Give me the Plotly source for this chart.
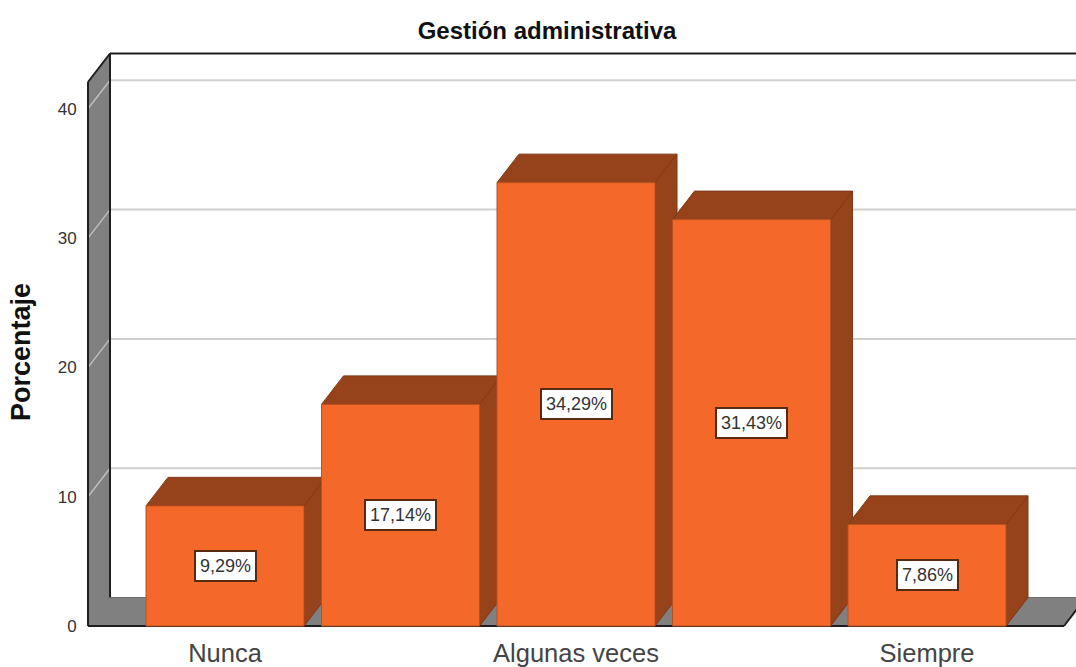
import plotly.graph_objects as go

categories = ["Nunca", "Casi nunca", "Algunas veces", "Casi siempre", "Siempre"]
percentages = [9.29, 17.14, 34.29, 31.43, 7.86]
labels = ["9,29%", "17,14%", "34,29%", "31,43%", "7,86%"]
y_ticks = [0, 10, 20, 30, 40]
x_tick_index = [0, 2, 4]

FRONT = "#F4682A"
DARK = "#96421A"
WALL = "#808080"
GRID = "#CFCFCF"
INK = "#1E1E1E"

W, H = 1076, 667
L, R, T, B = 84, 1076, 50, 630
X0_PX, X_UNIT = 225.0, 175.5
Y0_PX, Y_UNIT = 626.0, 12.93


def xv(px):
    return (px - X0_PX) / X_UNIT


def yv(px):
    return (Y0_PX - px) / Y_UNIT


DX = 22 / X_UNIT
DY = 28.5 / Y_UNIT
BAR_W = 158 / X_UNIT
WALL_X = xv(88)
FLOOR_END = xv(1064)
WALL_TOP = yv(82)
RIGHT_OUT = xv(1100)


def poly(points, fill, line=None, width=1):
    path = "M " + " L ".join(f"{x},{y}" for x, y in points) + " Z"
    return dict(type="path", path=path, xref="x", yref="y", layer="below",
                fillcolor=fill, line=dict(color=line or fill, width=width))


def seg(x0, y0, x1, y1, color, width):
    return dict(type="line", x0=x0, y0=y0, x1=x1, y1=y1, xref="x", yref="y",
                layer="below", line=dict(color=color, width=width))


shapes = []
# back wall grid
for t in y_ticks[1:]:
    shapes.append(seg(WALL_X + DX, t + DY, RIGHT_OUT, t + DY, GRID, 2))
# left wall and floor
shapes.append(poly([(WALL_X, 0), (WALL_X + DX, DY), (WALL_X + DX, WALL_TOP + DY), (WALL_X, WALL_TOP)], WALL))
shapes.append(poly([(WALL_X, 0), (WALL_X + DX, DY), (FLOOR_END + DX, DY), (FLOOR_END, 0)], WALL))
for t in y_ticks[1:]:
    shapes.append(seg(WALL_X, t, WALL_X + DX, t + DY, "#BDBDBD", 1.5))
shapes += [
    seg(WALL_X, 0, WALL_X, WALL_TOP, INK, 2),
    seg(WALL_X + DX, DY, WALL_X + DX, WALL_TOP + DY, INK, 2),
    seg(WALL_X, WALL_TOP, WALL_X + DX, WALL_TOP + DY, INK, 2),
    seg(WALL_X + DX, WALL_TOP + DY, RIGHT_OUT, WALL_TOP + DY, INK, 2),
    seg(WALL_X + DX, DY, FLOOR_END + DX, DY, "#6E6E6E", 1),
    seg(WALL_X, 0, FLOOR_END, 0, INK, 2),
    seg(FLOOR_END, 0, FLOOR_END + DX, DY, INK, 2),
]
# bar depth faces
for i, v in enumerate(percentages):
    xl, xr = i - BAR_W / 2, i + BAR_W / 2
    shapes.append(poly([(xr, 0), (xr + DX, DY), (xr + DX, v + DY), (xr, v)], DARK, "#7F3714"))
    shapes.append(poly([(xl, v), (xl + DX, v + DY), (xr + DX, v + DY), (xr, v)], DARK, "#7F3714"))

fig = go.Figure(go.Bar(
    x=list(range(len(categories))), y=percentages, width=BAR_W,
    marker=dict(color=FRONT, line=dict(color="#B8501F", width=1)),
    hovertext=categories, hoverinfo="text+y",
))

annotations = [
    dict(x=i, y=v / 2, text=labels[i], showarrow=False, xref="x", yref="y",
         font=dict(family="Liberation Sans", size=18, color="#333333"),
         bgcolor="white", bordercolor="#5A2A10", borderwidth=2, borderpad=4)
    for i, v in enumerate(percentages)
]
annotations.append(dict(
    text="<b>Porcentaje</b>", textangle=-90, showarrow=False,
    xref="paper", yref="paper", x=(21 - L) / (R - L), y=(B - 352) / (B - T),
    xanchor="center", yanchor="middle",
    font=dict(family="Liberation Sans", size=27, color="#111111"),
))

fig.update_layout(
    width=W, height=H, autosize=False,
    margin=dict(l=L, r=W - R, t=T, b=H - B, autoexpand=False),
    paper_bgcolor="white", plot_bgcolor="white",
    showlegend=False, shapes=shapes, annotations=annotations,
    font=dict(family="Liberation Sans"),
    title=dict(text="<b>Gestión administrativa</b>", x=547 / W, xanchor="center",
               y=1 - 31 / H, yanchor="middle", font=dict(size=24, color="#111111")),
    xaxis=dict(range=[xv(L), xv(R)], tickmode="array", tickvals=x_tick_index,
               ticktext=[categories[i] for i in x_tick_index],
               showgrid=False, zeroline=False, showline=False,
               ticks="outside", ticklen=0, tickcolor="rgba(0,0,0,0)",
               tickfont=dict(size=25.5, color="#444444")),
    yaxis=dict(range=[yv(B), yv(T)], tickmode="array", tickvals=y_ticks,
               showgrid=False, zeroline=False, showline=False,
               ticks="outside", ticklen=3, tickcolor="rgba(0,0,0,0)",
               tickfont=dict(size=17, color="#333333")),
)

fig.write_html("out.html", config=dict(displayModeBar=False),
               post_script="document.body.style.margin='0';")
